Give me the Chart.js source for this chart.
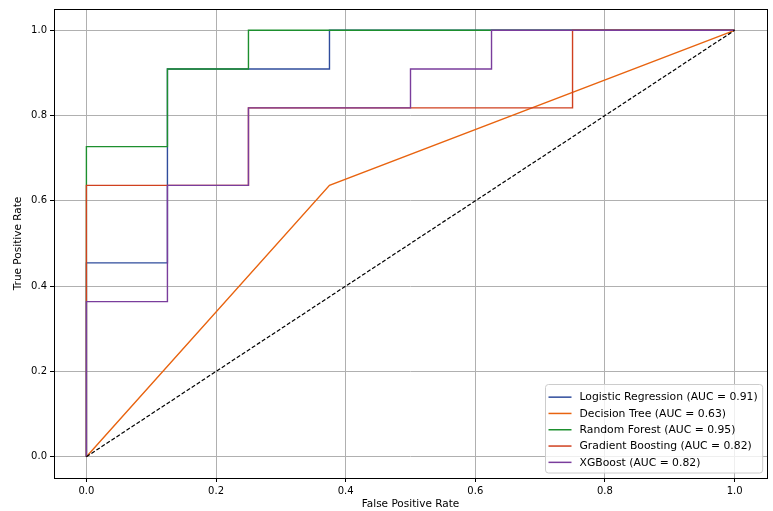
<!DOCTYPE html>
<html>
<head>
<meta charset="utf-8">
<script src="https://cdn.jsdelivr.net/npm/chart.js@4.4.1/dist/chart.umd.min.js"></script>
<style>
  html, body { margin: 0; padding: 0; background: #ffffff; }
  #wrap { width: 773px; height: 511px; position: relative; }
</style>
</head>
<body>
<div id="wrap"><canvas id="roc" width="773" height="511"></canvas></div>
<script>
// ROC curve points (false positive rate / true positive rate) per model
const modelNames = ['Logistic Regression', 'Decision Tree', 'Random Forest', 'Gradient Boosting', 'XGBoost'];
const aucValues = [0.91, 0.63, 0.95, 0.82, 0.82];
const lrFpr  = [0, 0, 0.125, 0.125, 0.375, 0.375, 1];
const lrTpr  = [0, 0.4545, 0.4545, 0.9091, 0.9091, 1, 1];
const dtFpr  = [0, 0.375, 1];
const dtTpr  = [0, 0.6364, 1];
const rfFpr  = [0, 0, 0.125, 0.125, 0.25, 0.25, 1];
const rfTpr  = [0, 0.7273, 0.7273, 0.9091, 0.9091, 1, 1];
const gbFpr  = [0, 0, 0.25, 0.25, 0.75, 0.75, 1];
const gbTpr  = [0, 0.6364, 0.6364, 0.8182, 0.8182, 1, 1];
const xgbFpr = [0, 0, 0.125, 0.125, 0.25, 0.25, 0.5, 0.5, 0.625, 0.625, 1];
const xgbTpr = [0, 0.3636, 0.3636, 0.6364, 0.6364, 0.8182, 0.8182, 0.9091, 0.9091, 1, 1];
const chanceFpr = [0, 1];
const chanceTpr = [0, 1];
const tickValues = [0, 0.2, 0.4, 0.6, 0.8, 1.0];

const curveFpr = [lrFpr, dtFpr, rfFpr, gbFpr, xgbFpr];
const curveTpr = [lrTpr, dtTpr, rfTpr, gbTpr, xgbTpr];
const colors = ['#2f4c9c', '#e8630f', '#1d8f2e', '#d0401f', '#7a3d9c'];

function toPoints(xs, ys) { return xs.map((x, i) => ({ x: x, y: ys[i] })); }

// later models are painted over earlier ones; the chance line goes on top
const datasets = modelNames.map((name, i) => ({
  label: `${name} (AUC = ${aucValues[i].toFixed(2)})`,
  data: toPoints(curveFpr[i], curveTpr[i]),
  borderColor: colors[i],
  backgroundColor: colors[i],
  borderWidth: 1.4,
  showLine: true,
  pointRadius: 0,
  tension: 0,
  fill: false,
  order: modelNames.length - i
}));
datasets.push({
  label: 'chance',
  data: toPoints(chanceFpr, chanceTpr),
  borderColor: '#000000',
  borderWidth: 1.2,
  borderDash: [4, 2],
  showLine: true,
  pointRadius: 0,
  fill: false,
  order: 0
});

const FONT = 'DejaVu Sans';

// frame around the plotting area plus the in-plot legend
const framePlugin = {
  id: 'frame',
  afterDatasetsDraw(chart) {
    const { ctx, chartArea: a } = chart;
    ctx.save();
    ctx.strokeStyle = '#000000';
    ctx.lineWidth = 1;
    ctx.strokeRect(Math.round(a.left) + 0.5, Math.round(a.top) + 0.5,
                   Math.round(a.right - a.left), Math.round(a.bottom - a.top));

    // legend box, lower right
    const labels = modelNames.map((n, i) => `${n} (AUC = ${aucValues[i].toFixed(2)})`);
    ctx.font = `10.8px "${FONT}"`;
    const textW = Math.max(...labels.map(t => ctx.measureText(t).width));
    const rowH = 16.3;
    const boxW = 34 + textW + 5;
    const boxH = labels.length * rowH + 7;
    const bx = Math.round(a.right - 5 - boxW) + 0.5;
    const by = Math.round(a.bottom - 6 - boxH) + 0.5;
    ctx.fillStyle = 'rgba(255,255,255,0.8)';
    ctx.strokeStyle = '#cccccc';
    ctx.lineWidth = 1;
    ctx.beginPath();
    if (ctx.roundRect) ctx.roundRect(bx, by, boxW, boxH, 3); else ctx.rect(bx, by, boxW, boxH);
    ctx.fill();
    ctx.stroke();
    labels.forEach((t, i) => {
      const cy = by + 4.5 + rowH * i + rowH / 2;
      ctx.strokeStyle = colors[i];
      ctx.lineWidth = 1.5;
      ctx.beginPath();
      ctx.moveTo(bx + 3, cy);
      ctx.lineTo(bx + 26, cy);
      ctx.stroke();
      ctx.fillStyle = '#000000';
      ctx.textBaseline = 'middle';
      ctx.textAlign = 'left';
      ctx.fillText(t, bx + 34, cy + 0.5);
    });
    ctx.restore();
  }
};

function fixedTicks(scale) {
  scale.ticks = tickValues.map(v => ({ value: v }));
}

new Chart(document.getElementById('roc'), {
  type: 'scatter',
  data: { datasets: datasets },
  options: {
    responsive: false,
    animation: false,
    layout: { padding: { top: 8, right: 6, left: 12, bottom: 0 } },
    plugins: {
      legend: { display: false },
      tooltip: { enabled: false }
    },
    scales: {
      x: {
        type: 'linear',
        min: -0.05,
        max: 1.05,
        afterBuildTicks: fixedTicks,
        afterFit(scale) { scale.height = 33; },
        border: { display: false },
        grid: { color: '#b0b0b0', lineWidth: 1, drawTicks: true, tickLength: 4, tickColor: '#000000' },
        ticks: {
          color: '#000000',
          font: { family: FONT, size: 10 },
          padding: 3,
          maxRotation: 0,
          callback: v => Number(v).toFixed(1)
        },
        title: { display: true, text: 'False Positive Rate', color: '#000000', font: { family: FONT, size: 10.5 }, padding: { top: 7, bottom: 0 } }
      },
      y: {
        type: 'linear',
        min: -0.05,
        max: 1.05,
        afterBuildTicks: fixedTicks,
        afterFit(scale) { scale.width = 42; },
        border: { display: false },
        grid: { color: '#b0b0b0', lineWidth: 1, drawTicks: true, tickLength: 4, tickColor: '#000000' },
        ticks: {
          color: '#000000',
          font: { family: FONT, size: 10 },
          padding: 3,
          callback: v => Number(v).toFixed(1)
        },
        title: { display: true, text: 'True Positive Rate', color: '#000000', font: { family: FONT, size: 10.5 }, padding: { top: 0, bottom: 4 } }
      }
    }
  },
  plugins: [framePlugin]
});
</script>
</body>
</html>
